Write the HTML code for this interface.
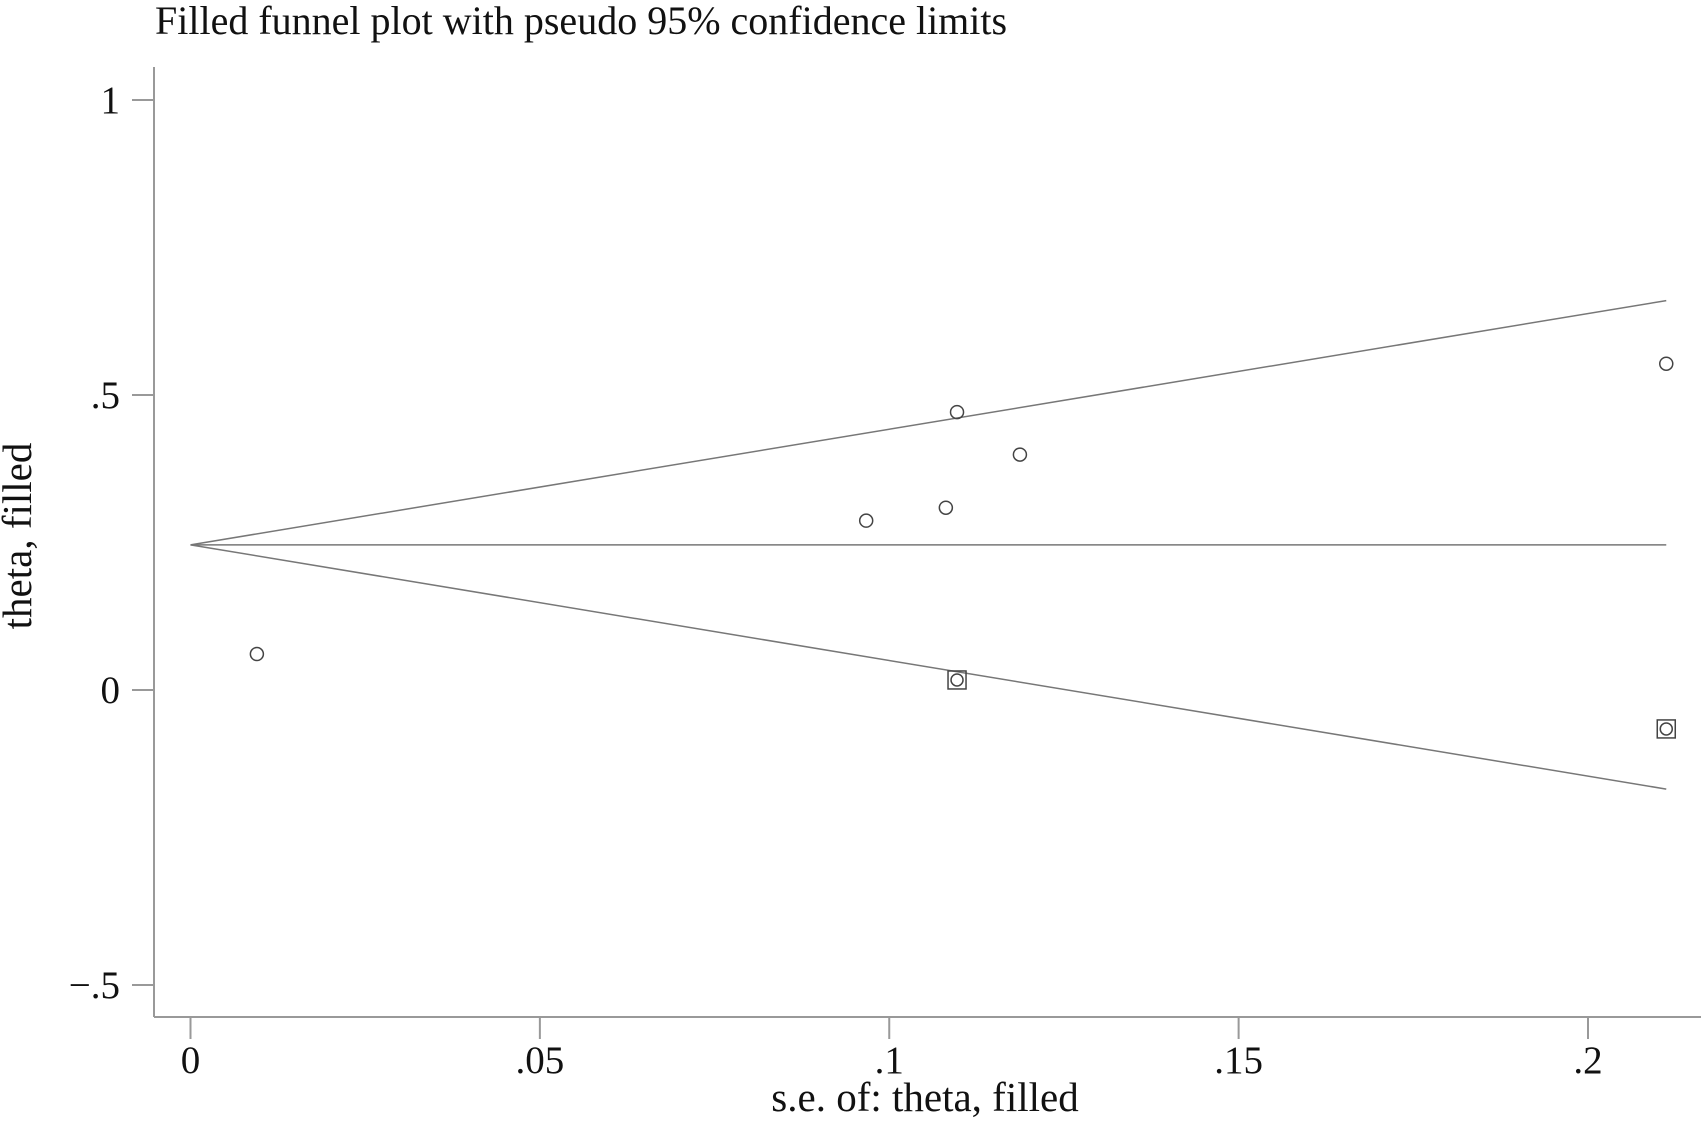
<!DOCTYPE html>
<html><head><meta charset="utf-8"><style>
body{margin:0;background:#fff}
svg{display:block;font-family:"Liberation Serif",serif}
</style></head><body>
<svg width="1706" height="1122" id="chart">
<text x="155" y="34" font-size="40" fill="#111">Filled funnel plot with pseudo 95% confidence limits</text>
<text x="925" y="1111" font-size="41" text-anchor="middle" fill="#111">s.e. of: theta, filled</text>
<text transform="translate(31,536) rotate(-90)" font-size="41" text-anchor="middle" fill="#111">theta, filled</text>
<g id="g"></g>
</svg>
<script>
const xTicks=[0,0.05,0.1,0.15,0.2];
const xTickLabels=["0",".05",".1",".15",".2"];
const yTicks=[-0.5,0,0.5,1];
const yTickLabels=["\u2212.5","0",".5","1"];
const observedSE=[0.0095,0.0967,0.1081,0.1097,0.1187,0.2112];
const observedTheta=[0.061,0.287,0.309,0.471,0.399,0.553];
const filledSE=[0.1097,0.2112];
const filledTheta=[0.017,-0.066];
const pooledTheta=0.246;
const maxSE=0.2112;

const X=v=>190.5+v*(1588-190.5)/0.2;
const Y=v=>690-v*(690-100);
const NS="http://www.w3.org/2000/svg";
const g=document.getElementById('g');
function mk(t,a){const e=document.createElementNS(NS,t);for(const k in a)e.setAttribute(k,a[k]);g.appendChild(e);return e;}
let e;
e=mk('line',{x1:154,y1:67,x2:154,y2:1017,stroke:'#999','stroke-width':2});


e=mk('line',{x1:154,y1:1017,x2:1701,y2:1017,stroke:'#999','stroke-width':2});


xTicks.forEach((v,i)=>{
 e=mk('line',{x1:X(v),y1:1017,x2:X(v),y2:1039,stroke:'#999','stroke-width':2});
 
 
 e=mk('text',{x:X(v),y:1073,'font-size':39,'text-anchor':'middle',fill:'#111'});
 e.textContent=xTickLabels[i];
 
 
});
yTicks.forEach((v,i)=>{
 e=mk('line',{x1:132,y1:Y(v),x2:154,y2:Y(v),stroke:'#999','stroke-width':2});
 
 
 e=mk('text',{x:120,y:Y(v)+13,'font-size':39,'text-anchor':'end',fill:'#111'});
 e.textContent=yTickLabels[i];
 
 
});
e=mk('line',{x1:X(0),y1:Y(pooledTheta),x2:X(maxSE),y2:Y(pooledTheta),stroke:'#777','stroke-width':1.5});


e=mk('line',{x1:X(0),y1:Y(pooledTheta),x2:X(maxSE),y2:Y(pooledTheta+1.96*maxSE),stroke:'#777','stroke-width':1.5});


e=mk('line',{x1:X(0),y1:Y(pooledTheta),x2:X(maxSE),y2:Y(pooledTheta-1.96*maxSE),stroke:'#777','stroke-width':1.5});


observedSE.forEach((s,i)=>{
 e=mk('circle',{cx:X(s),cy:Y(observedTheta[i]),r:6.5,fill:'none',stroke:'#444','stroke-width':1.5});
 
 
});
filledSE.forEach((s,i)=>{
 e=mk('rect',{x:X(s)-9,y:Y(filledTheta[i])-9,width:18,height:18,fill:'none',stroke:'#444','stroke-width':1.5});
 
 
 e=mk('circle',{cx:X(s),cy:Y(filledTheta[i]),r:6,fill:'none',stroke:'#444','stroke-width':1.5});
 
 
});
</script>
</body></html>
